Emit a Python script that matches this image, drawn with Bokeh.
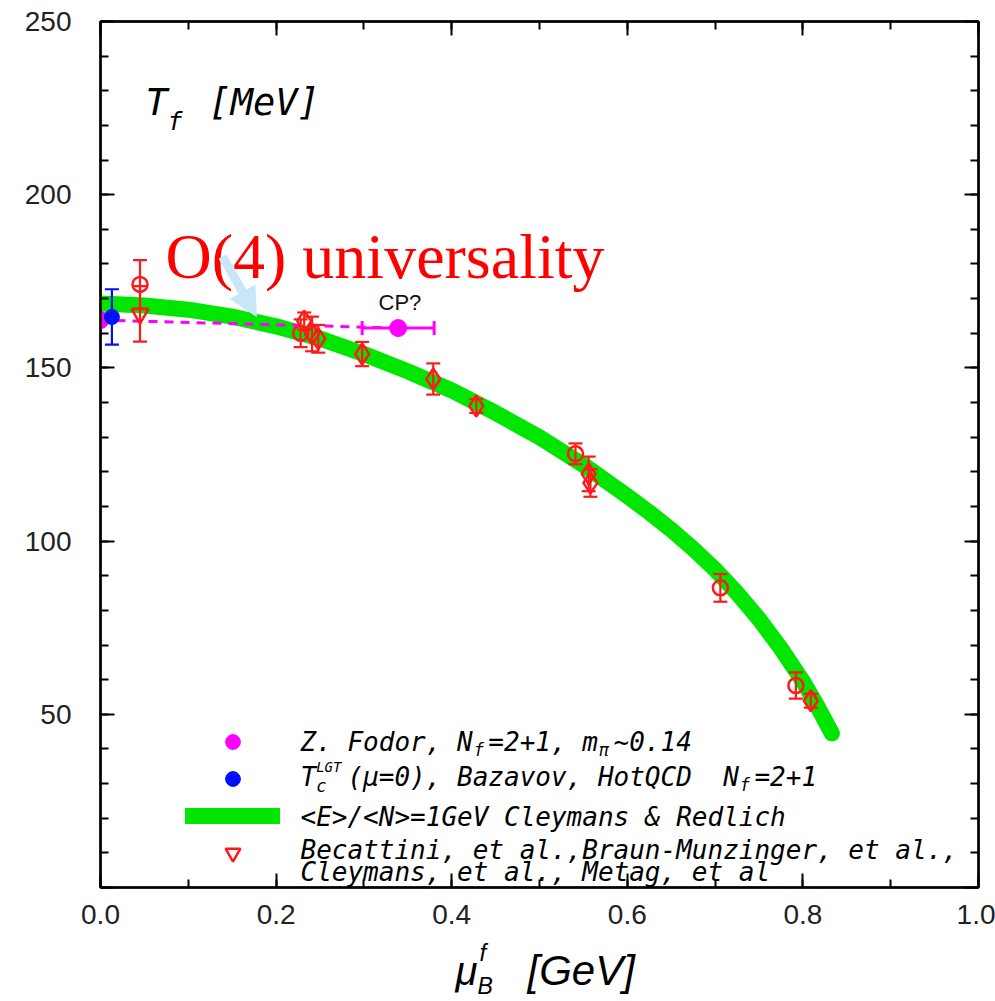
import numpy as np
from bokeh.plotting import figure
from bokeh.layouts import column
from bokeh.models import (Range1d, SingleIntervalTicker, LinearAxis, Whisker, ColumnDataSource,
                          TeeHead, Label, Arrow, NormalHead, Legend, LegendItem, PrintfTickFormatter,
                          CustomJSTickFormatter)
from bokeh.core.properties import value
from bokeh.embed import file_html
from bokeh.resources import INLINE

# ---------------- data ----------------
curve_mu = [0.0, 0.05, 0.10, 0.15, 0.20, 0.25, 0.30, 0.35, 0.40, 0.45, 0.50, 0.55,
            0.60, 0.625, 0.65, 0.675, 0.70, 0.725, 0.75, 0.775, 0.80, 0.815, 0.833]
curve_T = [168.6, 168.0, 166.8, 164.8, 162.0, 158.5, 154.0, 149.0, 143.5, 137.0, 130.0, 122.0,
           113.0, 108.3, 103.3, 97.8, 91.8, 85.0, 77.5, 69.0, 59.5, 53.0, 44.5]

fodor_mu = [0.0]
fodor_T = [163.8]
cp_mu = [0.339]
cp_T = [161.5]
cp_mu_err = [0.041]
dash_mu = [0.0, 0.339]
dash_T = [163.8, 161.5]

hotqcd_mu = [0.013]
hotqcd_T = [164.7]
hotqcd_err = [8.0]

tri_mu = [0.045]
tri_T = [165.6]
tri_err = [8.0]

circ_mu = [0.045, 0.228, 0.541, 0.706, 0.792]
circ_T = [174.1, 160.0, 125.2, 86.5, 58.3]
circ_err = [7.0, 4.0, 3.0, 4.0, 3.8]

diam_mu = [0.232, 0.241, 0.248, 0.298, 0.379, 0.428, 0.556, 0.558, 0.809]
diam_T = [163.5, 159.8, 158.4, 154.0, 146.8, 139.0, 119.4, 116.8, 53.9]
diam_err = [2.5, 5.0, 4.0, 3.5, 4.5, 2.0, 5.0, 4.0, 2.0]

x_ticks_interval = 0.2
y_ticks_interval = 50

# ---------------- layout constants ----------------
W = 995
H1 = 936            # main figure height
H2 = 1001 - H1      # strip under it holding the x-axis title
FL, FR, FT, FB = 100, 978, 21, 887
XMAX, YMAX = 1.0, 250.0


def dx(px):
    return (px - FL) / (FR - FL) * XMAX


def dy(py):
    return (FB - py) / (FB - FT) * YMAX


p = figure(width=W, height=H1, x_range=Range1d(0, XMAX), y_range=Range1d(0, YMAX),
           output_backend="svg", toolbar_location=None,
           min_border_left=FL, min_border_right=W - FR, min_border_top=FT,
           min_border_bottom=H1 - FB)
p.xgrid.visible = False
p.ygrid.visible = False
p.outline_line_color = "black"
p.outline_line_width = 2
p.background_fill_color = "white"
p.border_fill_color = "white"


def style_axis(ax, show_labels):
    ax.axis_line_color = "black"
    ax.axis_line_width = 2.5
    ax.major_tick_in = 14
    ax.major_tick_out = 0
    ax.minor_tick_in = 8
    ax.minor_tick_out = 0
    ax.major_tick_line_width = 2
    ax.minor_tick_line_width = 2
    ax.major_tick_line_color = "black"
    ax.minor_tick_line_color = "black"
    if show_labels:
        ax.major_label_text_font = "Liberation Sans"
        ax.major_label_text_font_size = "28px"
        ax.major_label_text_color = "#222222"
    else:
        ax.formatter = CustomJSTickFormatter(code="return ''")
        ax.major_label_text_font_size = "1px"
        ax.major_label_standoff = 0


xb = p.xaxis[0]
xb.ticker = SingleIntervalTicker(interval=x_ticks_interval, num_minor_ticks=2)
xb.formatter = PrintfTickFormatter(format="%.1f")
style_axis(xb, True)
xb.major_label_standoff = 17

yl = p.yaxis[0]
yl.ticker = SingleIntervalTicker(interval=y_ticks_interval, num_minor_ticks=5)
yl.major_label_overrides = {0: ""}
style_axis(yl, True)
yl.major_label_standoff = 29

xt = LinearAxis(ticker=SingleIntervalTicker(interval=x_ticks_interval, num_minor_ticks=2))
style_axis(xt, False)
p.add_layout(xt, "above")
yr = LinearAxis(ticker=SingleIntervalTicker(interval=y_ticks_interval, num_minor_ticks=5))
style_axis(yr, False)
p.add_layout(yr, "right")

# ---------------- glyphs ----------------
GREEN = "#00e600"
MAG = "#ff00ff"
RED = "#ff1a1a"
BLUE = "#0010ff"

r_curve = p.line(curve_mu, curve_T, line_color=GREEN, line_width=16, line_cap="round",
                 line_join="round")
r_dash = p.line(dash_mu, dash_T, line_color=MAG, line_width=3, line_dash="9 7")


def add_whisker(xs, ys, errs, color, dim="height", lw=2.2, head=14):
    if dim == "height":
        src = ColumnDataSource(dict(base=xs, upper=[y + e for y, e in zip(ys, errs)],
                                    lower=[y - e for y, e in zip(ys, errs)]))
    else:
        src = ColumnDataSource(dict(base=ys, upper=[x + e for x, e in zip(xs, errs)],
                                    lower=[x - e for x, e in zip(xs, errs)]))
    w = Whisker(source=src, base="base", upper="upper", lower="lower", dimension=dim,
                line_color=color, line_width=lw,
                upper_head=TeeHead(size=head, line_color=color, line_width=lw),
                lower_head=TeeHead(size=head, line_color=color, line_width=lw),
                level="annotation")
    p.add_layout(w)


add_whisker(circ_mu, circ_T, circ_err, RED)
add_whisker(diam_mu, diam_T, diam_err, RED)
add_whisker(tri_mu, tri_T, tri_err, RED)
add_whisker(hotqcd_mu, hotqcd_T, hotqcd_err, BLUE)
add_whisker(cp_mu, cp_T, cp_mu_err, MAG, dim="width", lw=3)

p.scatter(circ_mu, circ_T, marker="circle", size=15, fill_alpha=0, line_color=RED, line_width=2.5)
p.scatter(diam_mu, diam_T, marker="diamond", size=21, fill_alpha=0, line_color=RED, line_width=2.5)
r_tri = p.scatter(tri_mu, tri_T, marker="inverted_triangle", size=17, fill_alpha=0,
                  line_color=RED, line_width=2.5)
r_fodor = p.scatter(fodor_mu, fodor_T, marker="circle", size=17, fill_color=MAG, line_color=MAG)
p.scatter(cp_mu, cp_T, marker="circle", size=17, fill_color=MAG, line_color=MAG)
r_hot = p.scatter(hotqcd_mu, hotqcd_T, marker="circle", size=15, fill_color=BLUE, line_color=BLUE)

# ---------------- legend (glyph keys) ----------------
legend = Legend(items=[LegendItem(label=value(" "), renderers=[r_fodor]),
                       LegendItem(label=value(" "), renderers=[r_hot]),
                       LegendItem(label=value(" "), renderers=[r_curve]),
                       LegendItem(label=value(" "), renderers=[r_tri])],
                location=(85, 16), orientation="vertical", glyph_width=95, glyph_height=37,
                spacing=0, padding=0, margin=0, border_line_alpha=0, background_fill_alpha=0,
                label_text_font_size="1px", label_standoff=0, label_width=1)
p.add_layout(legend)

# ---------------- texts ----------------
MONO = "DejaVu Sans Mono"
LFS = 26
ADV = 0.602 * LFS
X0 = 300
NB = "\u00a0"


def lab(fig, x, y, text, font=MONO, size=LFS, style="italic", color="black", align="left",
        baseline="middle"):
    fig.add_layout(Label(x=x, y=y, text=text, text_font=font,
                         text_font_size=f"{size}px", text_font_style=style, text_color=color,
                         text_align=align, text_baseline=baseline))


def labp(px, py, text, **kw):
    lab(p, dx(px), dy(py), text, **kw)


# legend line 1
y1 = 741
labp(X0, y1, "Z. Fodor, N" + NB + "=2+1, m" + NB + "~0.14")
labp(X0 + 11 * ADV + 1, y1 + 8, "f", size=17)
labp(X0 + 19 * ADV + 1, y1 + 8, "π", size=17)
# legend line 2
y2 = 776
labp(X0, y2, "T" + NB + NB + "(μ=0), Bazavov, HotQCD" + NB + NB + "N" + NB + "=2+1")
labp(X0 + 1 * ADV, y2 + 9, "c", size=17)
labp(X0 + 1 * ADV, y2 - 10, "LGT", size=14)
labp(X0 + 28 * ADV + 1, y2 + 8, "f", size=17)
# legend line 3
labp(X0, 816, "<E>/<N>=1GeV Cleymans & Redlich")
# legend line 4
labp(X0, 849, "Becattini, et al.,Braun-Munzinger, et al.,")
labp(X0, 871, "Cleymans, et al., Metag, et al")

# y title inside plot
labp(145, 102, "T", size=37)
labp(167, 121, "f", size=25)
labp(208, 102, "[MeV]", size=37)

# annotations
labp(165, 256, "O(4) universality", font="Liberation Serif", size=64, style="normal",
     color="#ff0000", baseline="alphabetic")
labp(378, 302, "CP?", font="Liberation Sans", size=22, style="normal", color="#111111")

p.add_layout(Arrow(x_start=dx(222), y_start=dy(256), x_end=dx(256), y_end=dy(316),
                   line_color="#c9e6f8", line_width=9,
                   end=NormalHead(size=28, fill_color="#c9e6f8", line_color="#c9e6f8")))

# ---------------- x-axis title strip (frame aligned with main frame: FL..FR) ----------------
p2 = figure(width=W, height=H2, x_range=Range1d(FL, FR), y_range=Range1d(H2, 0),
            output_backend="svg", toolbar_location=None,
            min_border=0, min_border_left=0, min_border_right=0, min_border_top=0,
            min_border_bottom=0, x_axis_type=None, y_axis_type=None)
p2.outline_line_color = None
p2.xgrid.visible = False
p2.ygrid.visible = False
p2.background_fill_color = "white"
p2.border_fill_color = "white"

lab(p2, 455, 970 - H1, "μ", font="Liberation Sans", size=40)
lab(p2, 479, 952 - H1, "f", font="Liberation Sans", size=24)
lab(p2, 477, 985 - H1, "B", font="Liberation Sans", size=23)
lab(p2, 527, 970 - H1, "[GeV]", font="Liberation Sans", size=42)

layout = column(p, p2, spacing=0)
open("out.html", "w").write(file_html(layout, INLINE))
